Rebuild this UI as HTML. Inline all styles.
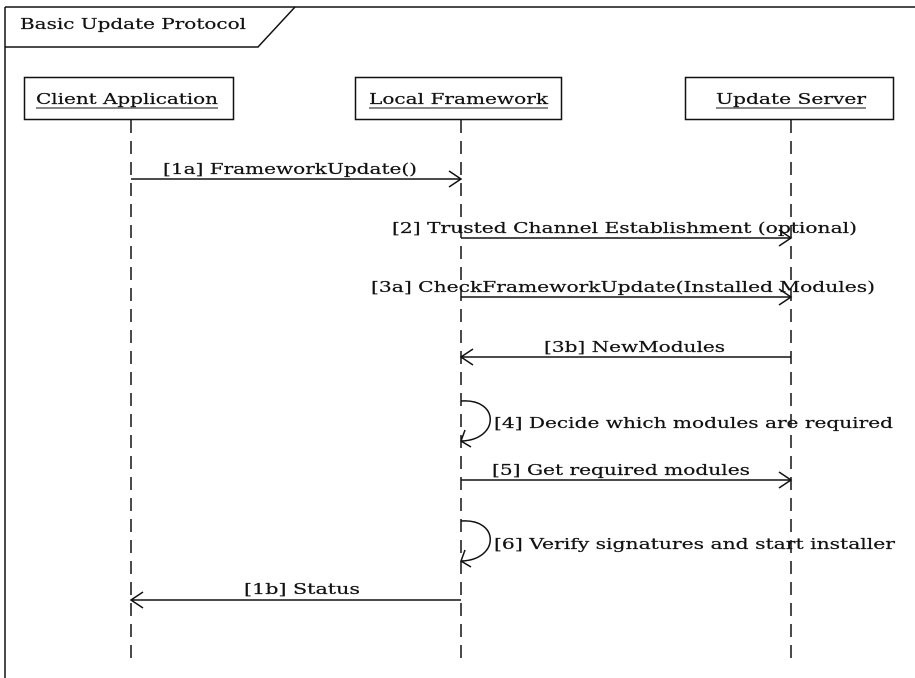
<!DOCTYPE html>
<html><head><meta charset="utf-8"><style>
html,body{margin:0;padding:0;background:#fff;}
svg{display:block;}
text{font-family:"DejaVu Serif","Liberation Serif",serif;font-size:15px;fill:#111;stroke:#111;stroke-width:0.2;}
</style></head><body>
<svg width="915" height="678" viewBox="0 0 915 678" xmlns="http://www.w3.org/2000/svg">
<g fill="none" stroke="#111" stroke-width="1.5">
<path d="M5,7 H915 M5,7 V678"/>
<path d="M5,47 H258 L295,7"/>
<rect x="24.5" y="77.5" width="209" height="42"/>
<rect x="355.5" y="77.5" width="206" height="42"/>
<rect x="685.5" y="77.5" width="208" height="42"/>
<g stroke-dasharray="13,8">
<line x1="131" y1="120" x2="131" y2="662"/>
<line x1="461" y1="120" x2="461" y2="662"/>
<line x1="791" y1="120" x2="791" y2="662"/>
</g>
<line x1="36" y1="108" x2="218" y2="108" stroke-width="1.1"/>
<line x1="369" y1="108" x2="548" y2="108" stroke-width="1.1"/>
<line x1="716" y1="108" x2="866" y2="108" stroke-width="1.1"/>
<line x1="131" y1="179" x2="461" y2="179"/><path d="M449,171 L461,179 L449,187"/>
<line x1="461" y1="238" x2="791" y2="238"/><path d="M779,230 L791,238 L779,246"/>
<line x1="461" y1="297" x2="791" y2="297"/><path d="M779,289 L791,297 L779,305"/>
<line x1="461" y1="357" x2="791" y2="357"/><path d="M473,349 L461,357 L473,365"/>
<path d="M461,401 C500,398 500,440 461,441"/><path d="M465,430 L461,441 L471,447"/>
<line x1="461" y1="480" x2="791" y2="480"/><path d="M779,472 L791,480 L779,488"/>
<path d="M461,521 C500,518 500,560 461,561"/><path d="M465,550 L461,561 L471,567"/>
<line x1="131" y1="600" x2="461" y2="600"/><path d="M143,592 L131,600 L143,608"/>
</g>
<text x="20" y="29" textLength="226" lengthAdjust="spacingAndGlyphs">Basic Update Protocol</text>
<text x="36" y="104" textLength="182" lengthAdjust="spacingAndGlyphs">Client Application</text>
<text x="369" y="104" textLength="179" lengthAdjust="spacingAndGlyphs">Local Framework</text>
<text x="716" y="104" textLength="150" lengthAdjust="spacingAndGlyphs">Update Server</text>
<text x="163" y="174" textLength="254" lengthAdjust="spacingAndGlyphs">[1a] FrameworkUpdate()</text>
<text x="392" y="233" textLength="465" lengthAdjust="spacingAndGlyphs">[2] Trusted Channel Establishment (optional)</text>
<text x="371" y="292" textLength="504" lengthAdjust="spacingAndGlyphs">[3a] CheckFrameworkUpdate(Installed Modules)</text>
<text x="544" y="352" textLength="181" lengthAdjust="spacingAndGlyphs">[3b] NewModules</text>
<text x="494" y="428" textLength="399" lengthAdjust="spacingAndGlyphs">[4] Decide which modules are required</text>
<text x="492" y="475" textLength="258" lengthAdjust="spacingAndGlyphs">[5] Get required modules</text>
<text x="494" y="549" textLength="401" lengthAdjust="spacingAndGlyphs">[6] Verify signatures and start installer</text>
<text x="244" y="594" textLength="116" lengthAdjust="spacingAndGlyphs">[1b] Status</text>
</svg>
</body></html>
